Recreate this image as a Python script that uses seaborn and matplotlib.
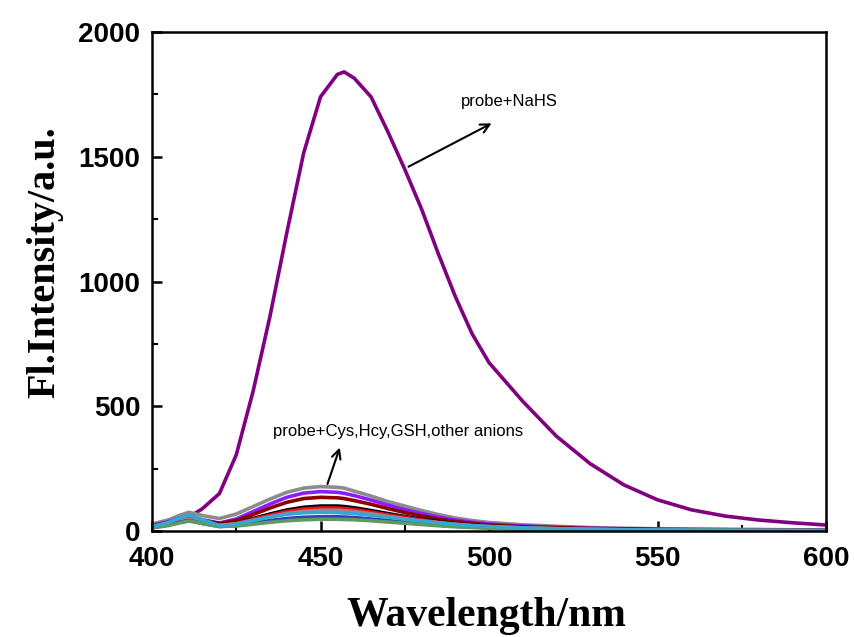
import matplotlib
matplotlib.use("Agg")
import matplotlib.pyplot as plt
from matplotlib.ticker import MultipleLocator
import seaborn as sns
import pandas as pd

wavelength = [400, 405, 408, 411, 415, 420, 425, 430, 435, 440, 445, 450, 455, 457, 460, 465,
              470, 475, 480, 485, 490, 495, 500, 510, 520, 530, 540, 550, 560, 570, 580, 590, 600]

probe_nahs = [22, 35, 45, 55, 90, 150, 305, 560, 860, 1195, 1515, 1740, 1830, 1840, 1815, 1740,
              1600, 1450, 1290, 1110, 940, 790, 675, 520, 380, 270, 185, 125, 85, 60, 44, 33, 24]
s_gray = [28, 45, 62, 75, 62, 50, 68, 98, 128, 155, 172, 178, 175, 172, 160, 140,
          118, 100, 82, 66, 52, 42, 34, 25, 19, 14, 11, 9, 8, 7, 6, 5, 5]
s_violet = [22, 38, 52, 62, 45, 32, 48, 78, 108, 135, 152, 158, 155, 151, 142, 124,
            104, 86, 70, 56, 44, 35, 28, 20, 15, 11, 9, 7, 6, 5, 5, 4, 4]
s_darkred = [20, 35, 48, 58, 42, 30, 42, 66, 92, 115, 130, 135, 133, 130, 122, 107,
             90, 74, 60, 48, 38, 30, 24, 17, 13, 10, 8, 6, 5, 5, 4, 4, 3]
s_black = [18, 32, 44, 52, 38, 25, 33, 50, 68, 84, 95, 100, 100, 98, 93, 82,
           70, 58, 47, 38, 30, 24, 19, 14, 10, 8, 6, 5, 4, 4, 3, 3, 3]
s_red = [18, 30, 42, 50, 36, 24, 31, 47, 63, 78, 88, 92, 92, 90, 86, 76,
         65, 54, 44, 35, 28, 22, 18, 13, 10, 7, 6, 5, 4, 3, 3, 3, 3]
s_mauve = [16, 28, 40, 48, 34, 22, 28, 42, 57, 70, 79, 83, 83, 81, 78, 69,
           59, 49, 40, 32, 26, 21, 17, 12, 9, 7, 5, 4, 4, 3, 3, 2, 2]
s_blue = [14, 25, 35, 42, 30, 18, 22, 32, 42, 50, 55, 57, 57, 56, 54, 48,
          42, 35, 29, 24, 19, 16, 13, 9, 7, 5, 4, 3, 3, 2, 2, 2, 2]
s_green = [12, 22, 32, 40, 30, 18, 20, 27, 35, 41, 45, 47, 47, 46, 45, 41,
           36, 31, 26, 21, 17, 14, 11, 8, 6, 5, 4, 3, 3, 2, 2, 2, 2]
s_cyan = [18, 35, 52, 64, 45, 22, 28, 42, 56, 67, 73, 75, 74, 72, 70, 63,
          55, 47, 40, 33, 27, 22, 18, 13, 9, 7, 5, 4, 3, 3, 2, 2, 2]

series_names = ["NaHS", "gray", "violet", "darkred", "black", "red", "mauve", "blue", "green", "cyan"]
series_values = [probe_nahs, s_gray, s_violet, s_darkred, s_black, s_red, s_mauve, s_blue, s_green, s_cyan]
series_colors = ["#800080", "#8c8c8c", "#8a1cff", "#8b0000", "#000000", "#e81010",
                 "#b07a90", "#3040c0", "#5f9a5f", "#33a8d0"]

sns.set_style("ticks")
plt.rcParams.update({"text.color": "black", "axes.labelcolor": "black",
                     "xtick.color": "black", "ytick.color": "black",
                     "axes.edgecolor": "black"})
fig = plt.figure(figsize=(8.55, 6.37), dpi=100)
ax = fig.add_axes([152 / 855, 106 / 637, (826 - 152) / 855, (531 - 32) / 637])

rows = []
for name, vals in zip(series_names, series_values):
    for w, v in zip(wavelength, vals):
        rows.append({"wl": w, "val": v, "series": name})
df = pd.DataFrame(rows)

for name, color in zip(series_names, series_colors):
    sub = df[df["series"] == name]
    sns.lineplot(data=sub, x="wl", y="val", color=color, lw=2.6, ax=ax, legend=False)

ax.set_xlim(400, 600)
ax.set_ylim(0, 2000)
ax.xaxis.set_major_locator(MultipleLocator(50))
ax.xaxis.set_minor_locator(MultipleLocator(25))
ax.yaxis.set_major_locator(MultipleLocator(500))
ax.yaxis.set_minor_locator(MultipleLocator(250))
ax.tick_params(which="major", direction="in", length=7, width=1.8, labelsize=20,
               top=False, right=False)
ax.tick_params(axis="y", which="major", pad=8.5)
ax.tick_params(axis="x", which="major", pad=10.5)
ax.tick_params(which="minor", direction="in", length=4, width=1.5, top=False, right=False)
for lab in ax.get_xticklabels() + ax.get_yticklabels():
    lab.set_fontfamily("Liberation Sans")
    lab.set_fontweight("bold")
for sp in ax.spines.values():
    sp.set_visible(True)
    sp.set_linewidth(1.8)

ax.set_xlabel("Wavelength/nm", fontfamily="Liberation Serif", fontweight="bold", fontsize=30)
ax.set_ylabel("Fl.Intensity/a.u.", fontfamily="Liberation Serif", fontweight="bold", fontsize=29)
ax.xaxis.set_label_coords(0.496, -0.132)
ax.yaxis.set_label_coords(-0.131, 0.539)

ax.annotate("", xy=(501.5, 1639), xytext=(475.4, 1455),
            arrowprops=dict(arrowstyle="->", color="black", lw=1.5, mutation_scale=16))
ax.text(505.9, 1723, "probe+NaHS", fontfamily="Liberation Sans", fontsize=12,
        ha="center", va="center")
ax.annotate("", xy=(456.0, 345), xytext=(451.8, 178),
            arrowprops=dict(arrowstyle="->", color="black", lw=1.5, mutation_scale=16))
ax.text(473.0, 398, "probe+Cys,Hcy,GSH,other anions", fontfamily="Liberation Sans",
        fontsize=12, ha="center", va="center")

fig.savefig("out.png", dpi=100)
